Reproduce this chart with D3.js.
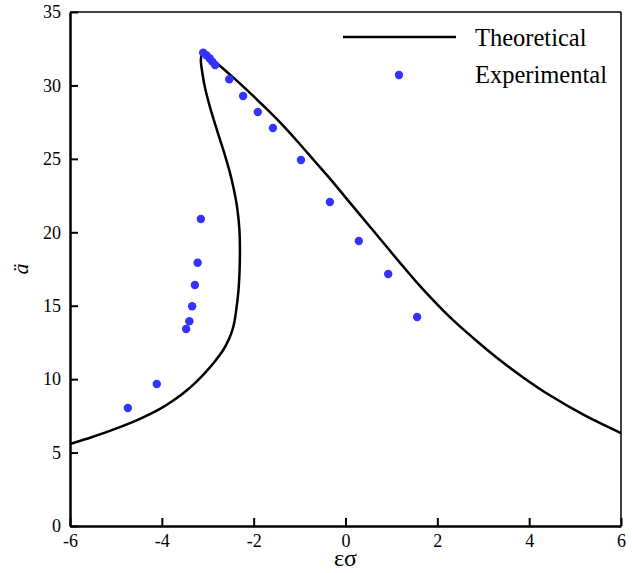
<!DOCTYPE html>
<html>
<head>
<meta charset="utf-8" />
<title>Frequency response</title>
<script src="https://cdn.jsdelivr.net/npm/d3@7"></script>
<style>
  body { margin: 0; background: #fff; }
  text { font-family: "Liberation Serif", "Times New Roman", serif; fill: #000; }
</style>
</head>
<body>
<script>
// theoretical curve, read along the path (x = eps*sigma, y = a)
var theoX = [-6.00, -5.50, -5.00, -4.50, -4.04, -3.72, -3.46, -3.25, -3.06, -2.85, -2.66, -2.53, -2.44, -2.38,
             -2.33, -2.30, -2.31, -2.36, -2.43, -2.52, -2.65, -2.80, -2.94, -3.05, -3.12, -3.15, -3.12, -3.02,
             -2.84, -2.52, -2.15, -1.80, -1.43, -1.05, -0.66, -0.27, 0.10, 0.46, 0.82, 1.22, 1.62, 2.28, 2.80,
             3.36, 3.90, 4.45, 5.20, 6.00];
var theoY = [5.58, 6.08, 6.63, 7.26, 7.97, 8.61, 9.23, 9.82, 10.43, 11.19, 12.00, 12.78, 13.60, 14.70,
             16.07, 18.34, 20.16, 21.70, 22.90, 24.10, 25.50, 26.96, 28.40, 29.70, 30.90, 31.73, 32.15, 32.12,
             31.62, 30.75, 29.70, 28.65, 27.50, 26.20, 24.80, 23.40, 22.00, 20.65, 19.30, 17.80, 16.35, 14.20, 12.75,
             11.30, 10.05, 8.90, 7.55, 6.33];

// experimental points
var expX = [-4.74, -4.11, -3.47, -3.40, -3.34, -3.28, -3.22, -3.15,
            -3.10, -3.03, -2.96, -2.90, -2.84, -2.53, -2.23, -1.91, -1.58, -0.97, -0.34, 0.29, 0.93, 1.56];
var expY = [8.03, 9.67, 13.41, 13.94, 14.96, 16.41, 17.93, 20.90,
            32.23, 32.05, 31.85, 31.62, 31.39, 30.42, 29.28, 28.19, 27.10, 24.92, 22.06, 19.41, 17.16, 14.23];

var xTicks = [-6, -4, -2, 0, 2, 4, 6];
var yTicks = [0, 5, 10, 15, 20, 25, 30, 35];

var W = 632, H = 573;
var pL = 70, pR = 621, pT = 12, pB = 526;

var x = d3.scaleLinear().domain([-6, 6]).range([pL, pR]);
var y = d3.scaleLinear().domain([0, 35]).range([pB, pT]);

var svg = d3.select("body").append("svg")
    .attr("width", W).attr("height", H);

// clip for the curve
svg.append("defs").append("clipPath").attr("id", "plot")
  .append("rect").attr("x", pL).attr("y", pT)
  .attr("width", pR - pL).attr("height", pB - pT);

// frame: thin top/right, thick left/bottom
svg.append("line").attr("x1", pL).attr("x2", pR).attr("y1", pT).attr("y2", pT)
  .attr("stroke", "#000").attr("stroke-width", 1.5);
svg.append("line").attr("x1", pR).attr("x2", pR).attr("y1", pT).attr("y2", pB)
  .attr("stroke", "#000").attr("stroke-width", 1.5);

var fmt = function(d) { return String(d); };
var xAxis = svg.append("g").attr("transform", "translate(0," + pB + ")")
  .call(d3.axisBottom(x).tickValues(xTicks).tickFormat(fmt).tickSizeInner(-8).tickSizeOuter(0));
var yAxis = svg.append("g").attr("transform", "translate(" + pL + ",0)")
  .call(d3.axisLeft(y).tickValues(yTicks).tickFormat(fmt).tickSizeInner(-8).tickSizeOuter(0));

[xAxis, yAxis].forEach(function(g) {
  g.select(".domain").attr("stroke", "#000").attr("stroke-width", 2.5);
  g.selectAll(".tick line").attr("stroke", "#000").attr("stroke-width", 2);
  g.selectAll(".tick text").style("font-family", "Liberation Serif, serif")
    .style("font-size", "18px").attr("fill", "#000");
});
xAxis.selectAll(".tick text").attr("y", 7).attr("dy", "0.75em");
yAxis.selectAll(".tick text").attr("x", -9);

// theoretical curve
var pts = theoX.map(function(d, i) { return [d, theoY[i]]; });
svg.append("path")
  .datum(pts)
  .attr("clip-path", "url(#plot)")
  .attr("fill", "none")
  .attr("stroke", "#000")
  .attr("stroke-width", 2.5)
  .attr("d", d3.line().x(function(d) { return x(d[0]); }).y(function(d) { return y(d[1]); })
    .curve(d3.curveCatmullRom.alpha(0.5)));

// experimental dots
svg.selectAll("circle.exp")
  .data(expX.map(function(d, i) { return [d, expY[i]]; }))
  .enter().append("circle")
  .attr("class", "exp")
  .attr("cx", function(d) { return x(d[0]); })
  .attr("cy", function(d) { return y(d[1]); })
  .attr("r", 4.2)
  .attr("fill", "#3333ff");

// legend
var lg = svg.append("g");
lg.append("line").attr("x1", 343).attr("x2", 456).attr("y1", 37).attr("y2", 37)
  .attr("stroke", "#000").attr("stroke-width", 2.5);
lg.append("text").attr("x", 475).attr("y", 46).style("font-size", "24.5px").text("Theoretical");
lg.append("circle").attr("cx", 399).attr("cy", 75).attr("r", 4.2).attr("fill", "#3333ff");
lg.append("text").attr("x", 475).attr("y", 83).style("font-size", "24.5px").text("Experimental");

// axis titles
svg.append("text").attr("x", (pL + pR) / 2).attr("y", 566)
  .attr("text-anchor", "middle").style("font-size", "24px").text("εσ");
svg.append("text").attr("transform", "translate(28," + ((pT + pB) / 2) + ") rotate(-90)")
  .attr("text-anchor", "middle").style("font-size", "22px").style("font-style", "italic").text("ä");
</script>
</body>
</html>
